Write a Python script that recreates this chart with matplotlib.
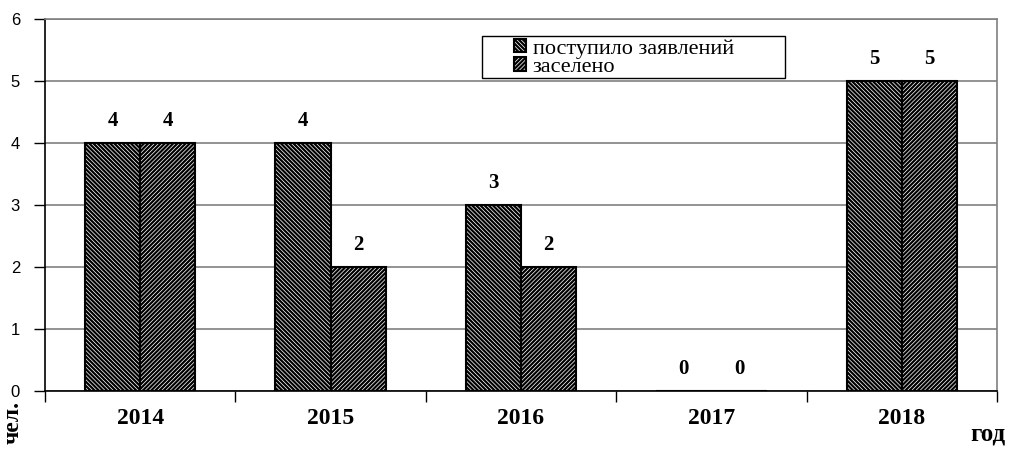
import numpy as np
import matplotlib.pyplot as plt
from matplotlib.patches import Rectangle
from matplotlib.ticker import FixedLocator

years = ['2014', '2015', '2016', '2017', '2018']
applied = [4, 4, 3, 0, 5]
settled = [4, 2, 2, 0, 5]
series_names = ['поступило заявлений', 'заселено']

plt.rcParams['hatch.linewidth'] = 1.6

fig = plt.figure(figsize=(10.16, 4.5), dpi=100)
ax = fig.add_axes([45 / 1016, 59 / 450, 952 / 1016, 372 / 450])

x = np.arange(len(years))
w = 0.29
b1 = ax.bar(x - w / 2, applied, w, color='white', edgecolor='black',
            hatch='\\' * 8, linewidth=1.5, label=series_names[0], zorder=3)
b2 = ax.bar(x + w / 2, settled, w, color='white', edgecolor='black',
            hatch='/' * 8, linewidth=1.5, label=series_names[1], zorder=3)

for bars, vals in ((b1, applied), (b2, settled)):
    for r, v in zip(bars, vals):
        ax.annotate(str(v), (r.get_x() + r.get_width() / 2, v),
                    xytext=(0, 9), textcoords='offset points',
                    ha='center', va='bottom', fontsize=15, fontweight='bold',
                    family='Liberation Serif')

ax.set_xlim(-0.5, len(years) - 0.5)
ax.set_ylim(0, 6)
ax.set_yticks(range(7))
ax.set_yticklabels([str(i) for i in range(7)], family='Liberation Sans', fontsize=12)
ax.yaxis.grid(True, color='#808080', linewidth=1.2, zorder=0)

ax.set_xticks(x)
ax.set_xticklabels(years, family='Liberation Serif', fontweight='bold', fontsize=17)
ax.xaxis.set_minor_locator(FixedLocator(np.arange(-0.5, len(years), 1.0)))
ax.tick_params(axis='x', which='major', length=0, pad=12)
ax.tick_params(axis='x', which='minor', length=8, width=1, direction='out')
ax.tick_params(axis='y', length=8, width=1, direction='out', pad=10)

ax.spines['left'].set_color('black')
ax.spines['bottom'].set_color('black')
ax.spines['top'].set_color('#808080')
ax.spines['right'].set_color('#808080')
for s in ax.spines.values():
    s.set_linewidth(1.2)
ax.spines['bottom'].set_zorder(4)

# legend frame is wider than its entries, drawn separately
frame = Rectangle((482 / 1016, 1 - 78 / 450), 303 / 1016, 42 / 450,
                  transform=fig.transFigure, facecolor='white',
                  edgecolor='black', linewidth=1.0, zorder=5)
fig.patches.append(frame)

leg = ax.legend(loc='upper left', bbox_to_anchor=(514 / 1016, 1 - 39 / 450),
                bbox_transform=fig.transFigure,
                prop={'family': 'Liberation Serif', 'size': 16},
                frameon=False, borderpad=0.0,
                handlelength=0.55, handleheight=0.55, handletextpad=0.3,
                labelspacing=-0.05, borderaxespad=0)
leg.set_zorder(6)
fig.legends.append(leg)
ax.get_legend().remove()

fig.text(13 / 1016, 1 - 422 / 450, 'чел.', rotation=90, ha='center', va='center',
         family='Liberation Serif', fontweight='bold', fontsize=17)
fig.text(988 / 1016, 1 - 434 / 450, 'год', ha='center', va='center',
         family='Liberation Serif', fontweight='bold', fontsize=18)

fig.savefig('out.png', dpi=100)
